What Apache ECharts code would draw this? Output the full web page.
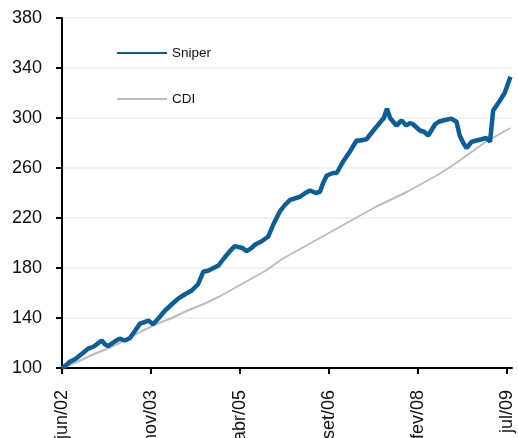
<!DOCTYPE html>
<html>
<head>
<meta charset="utf-8">
<script src="https://cdn.jsdelivr.net/npm/echarts@6/dist/echarts.min.js"></script>
<style>
  html, body { margin: 0; padding: 0; background: #fff; }
  #chart { width: 518px; height: 438px; }
</style>
</head>
<body>
<div id="chart"></div>
<script>
// months counted from jun/02
var tickMonths = [0, 17, 34, 51, 68, 85];
var tickLabels = ['jun/02', 'nov/03', 'abr/05', 'set/06', 'fev/08', 'jul/09'];

var sniperMonths = [0, 1, 1.5, 2.5, 4, 5, 6, 7.6, 8.2, 8.8, 10, 11, 12, 13, 14, 14.9, 16, 16.5, 17.4, 18.5,
    19.7, 21, 22.2, 23.5, 24.8, 26, 27, 28, 29.9, 31, 32, 33, 34.5, 35.3, 36.2, 37, 38, 39.4, 40.4, 41.6,
    42.5, 43.6, 45.5, 46.5, 47.4, 48.5, 49.3, 49.9, 50.6, 51.8, 52.5, 53.7, 55, 56.3, 57, 58.2, 59.5, 60.7,
    61.5, 62.1, 62.7, 63.3, 63.9, 64.9, 65.8, 66.5, 67.1, 68.4, 69.2, 70, 71.3, 72, 72.8, 74.4, 75.4, 76,
    76.7, 77.3, 78.3, 79.2, 80.2, 81.1, 81.8, 82.4, 83.7, 84.6, 85.7];
var sniperValues = [100, 103, 105, 107, 112, 115.5, 117, 122, 119, 117.5, 121, 123.5, 122, 124, 130, 135.5, 137, 138, 135, 140,
    146, 151, 155.5, 159, 162, 167, 177, 178, 182, 188, 193, 197.5, 196, 193.5, 196, 199, 201, 205, 215, 225,
    230, 234.5, 237, 240, 242, 240, 241, 248, 254, 256, 256, 265, 273, 282, 282, 283, 290, 296,
    300, 307.5, 300, 297, 294, 298, 294, 296, 295, 290, 289, 286, 295, 297, 298, 299.5, 297, 286,
    280, 276, 281, 282, 283, 284, 281, 306, 314, 320, 333];

var cdiMonths = [0, 3, 6, 9, 12, 15, 18, 21, 24, 27, 30, 33, 36, 39, 42, 45, 48, 51, 54, 57, 60, 63, 66, 69, 72, 75, 78, 81, 84, 85.7];
var cdiValues = [100, 105, 111, 116, 122, 129, 135, 140, 146, 151, 157, 164, 171, 178, 187, 194, 201, 208, 215, 222, 229, 235, 241, 248, 255, 263, 272, 281, 288, 292];

function pairs(xs, ys) {
    var out = [];
    for (var i = 0; i < xs.length; i++) {
        out.push([xs[i], ys[i]]);
    }
    return out;
}

var myChart = echarts.init(document.getElementById('chart'));
var font = 'Liberation Sans, Arial, sans-serif';

var option = {
    animation: false,
    textStyle: { fontFamily: font },
    grid: { left: 62, right: 6, top: 18, bottom: 70, outerBoundsMode: 'none', containLabel: false },
    legend: [{
        data: ['Sniper'],
        left: 117, top: 46, padding: 0,
        icon: 'rect', itemWidth: 50, itemHeight: 2, itemGap: 5,
        textStyle: { fontSize: 13.5, color: '#111', fontFamily: font }
    }, {
        data: ['CDI'],
        left: 117, top: 92, padding: 0,
        icon: 'rect', itemWidth: 50, itemHeight: 2, itemGap: 5,
        textStyle: { fontSize: 13.5, color: '#111', fontFamily: font }
    }],
    xAxis: {
        type: 'value',
        min: 0,
        max: 86,
        axisLine: { lineStyle: { color: '#000', width: 2 } },
        axisTick: { show: true, length: 6, customValues: tickMonths, lineStyle: { color: '#000', width: 2 } },
        axisLabel: {
            customValues: tickMonths,
            rotate: 90,
            margin: 22,
            fontSize: 18,
            color: '#111',
            fontFamily: font,
            formatter: function (v) {
                var i = tickMonths.indexOf(v);
                return i >= 0 ? tickLabels[i] : '';
            }
        },
        splitLine: { show: false }
    },
    yAxis: {
        type: 'value',
        min: 100,
        max: 380,
        interval: 40,
        axisLine: { show: true, lineStyle: { color: '#000', width: 2 } },
        axisTick: { show: true, length: 6, lineStyle: { color: '#000', width: 2 } },
        axisLabel: { margin: 20, fontSize: 18, color: '#111', fontFamily: font },
        splitLine: { show: true, lineStyle: { color: '#eeeeee', width: 1.5 } }
    },
    series: [{
        name: 'CDI',
        type: 'line',
        data: pairs(cdiMonths, cdiValues),
        showSymbol: false,
        color: '#bdbdbd',
        lineStyle: { width: 2, color: '#bdbdbd' },
        z: 2
    }, {
        name: 'Sniper',
        type: 'line',
        data: pairs(sniperMonths, sniperValues),
        showSymbol: false,
        color: '#0b5e98',
        lineStyle: { width: 4.5, color: '#0b5e98' },
        z: 3
    }]
};
myChart.setOption(option);
</script>
</body>
</html>
